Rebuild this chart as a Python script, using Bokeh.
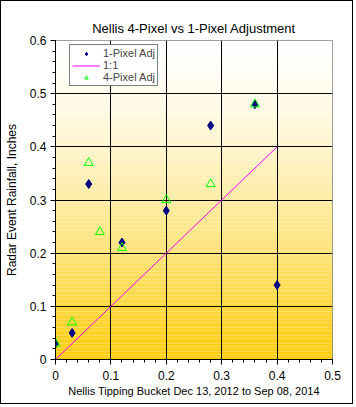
import numpy as np
from bokeh.plotting import figure
from bokeh.models import FixedTicker, Legend, LegendItem, InlineStyleSheet
from bokeh.embed import file_html
from bokeh.resources import INLINE

# Data
one_px_x = [0.0, 0.03, 0.06, 0.12, 0.20, 0.28, 0.36, 0.40]
one_px_y = [0.03, 0.05, 0.33, 0.22, 0.28, 0.44, 0.48, 0.14]
four_px_x = [0.0, 0.03, 0.06, 0.08, 0.12, 0.20, 0.28, 0.36]
four_px_y = [0.03, 0.07, 0.37, 0.24, 0.21, 0.30, 0.33, 0.48]
line_x = [0.0, 0.4]
line_y = [0.0, 0.4]
x_ticks = [0, 0.1, 0.2, 0.3, 0.4, 0.5]
y_ticks = [0, 0.1, 0.2, 0.3, 0.4, 0.5, 0.6]

FONT = "Liberation Sans"

p = figure(width=353, height=404, x_range=(0, 0.5), y_range=(0, 0.6),
           output_backend="svg", toolbar_location=None,
           min_border_left=53, min_border_right=22, min_border_top=39, min_border_bottom=46)
p.stylesheets = [InlineStyleSheet(css=":host { border: 1px solid black; }")]

# gradient background
n = 120
edges = np.linspace(0, 0.6, n + 1)
cols = []
for i in range(n):
    t = 1 - (edges[i] + edges[i + 1]) / 2 / 0.6  # 0 top, 1 bottom
    f = t ** 1.4
    r = 255
    g = int(round(255 + (204 - 255) * f))
    b = int(round(255 + (10 - 255) * f))
    cols.append("#%02x%02x%02x" % (r, g, b))
p.quad(left=0, right=0.5, bottom=edges[:-1], top=edges[1:], fill_color=cols,
       line_color=None, level="image")

p.background_fill_color = "white"
p.border_fill_color = "white"
p.outline_line_color = "#808080"
p.outline_line_width = 1

# grids
p.xgrid.ticker = FixedTicker(ticks=[0.1, 0.2, 0.3, 0.4])
p.ygrid.ticker = FixedTicker(ticks=[0.1, 0.2, 0.3, 0.4, 0.5])
for g in (p.xgrid, p.ygrid):
    g.grid_line_color = "black"
    g.grid_line_width = 1

# axes
p.xaxis.ticker = FixedTicker(ticks=x_ticks, minor_ticks=list(np.round(np.arange(0, 0.5001, 0.02), 3)))
p.yaxis.ticker = FixedTicker(ticks=y_ticks, minor_ticks=list(np.round(np.arange(0, 0.6001, 0.02), 3)))
p.xaxis.major_label_overrides = {0: "0"}
p.yaxis.major_label_overrides = {0: "0"}
for ax in (p.xaxis, p.yaxis):
    ax.axis_line_color = "black"
    ax.major_tick_line_color = "black"
    ax.minor_tick_line_color = "black"
    ax.major_tick_out = 5
    ax.major_tick_in = 0
    ax.minor_tick_out = 3
    ax.minor_tick_in = 0
    ax.major_label_text_font = FONT
    ax.major_label_text_font_size = "12px"
    ax.major_label_text_color = "black"
    ax.axis_label_text_font = FONT
    ax.axis_label_text_font_style = "normal"
    ax.axis_label_text_color = "black"
p.xaxis.axis_label = "Nellis Tipping Bucket Dec 13, 2012 to Sep 08, 2014"
p.xaxis.axis_label_text_font_size = "11px"
p.xaxis.axis_label_standoff = 2
p.xaxis.major_label_standoff = 6
p.yaxis.axis_label = "Radar Event Rainfall, Inches"
p.yaxis.axis_label_text_font_size = "12px"
p.yaxis.axis_label_standoff = 8
p.yaxis.major_label_standoff = 4

p.title.text = "Nellis 4-Pixel vs 1-Pixel Adjustment"
p.title.align = "center"
p.title.offset = -15
p.title.text_font = FONT
p.title.text_font_size = "13px"
p.title.text_font_style = "normal"
p.title.text_color = "black"

# data
r_line = p.line(line_x, line_y, line_color="#FF00FF", line_width=1)
r_one = p.scatter(one_px_x, one_px_y, marker="diamond", size=9, fill_color="#000080",
                  line_color="#000080")
r_four = p.scatter(four_px_x, four_px_y, marker="triangle", size=9, fill_alpha=0,
                   line_color="#00FF00", line_width=1)

legend = Legend(items=[LegendItem(label="1-Pixel Adj", renderers=[r_one]),
                       LegendItem(label="1:1", renderers=[r_line]),
                       LegendItem(label="4-Pixel Adj", renderers=[r_four])],
                location=(14, 273), orientation="vertical")
legend.label_text_font = FONT
legend.label_text_font_size = "11px"
legend.label_height = 9
legend.glyph_height = 9
legend.glyph_width = 28
legend.label_standoff = 3
legend.spacing = 0
legend.padding = 2
legend.margin = 0
legend.border_line_color = "black"
legend.border_line_width = 1
legend.background_fill_color = "white"
legend.background_fill_alpha = 1
p.add_layout(legend, "center")

open("out.html", "w").write(file_html(p, INLINE))
